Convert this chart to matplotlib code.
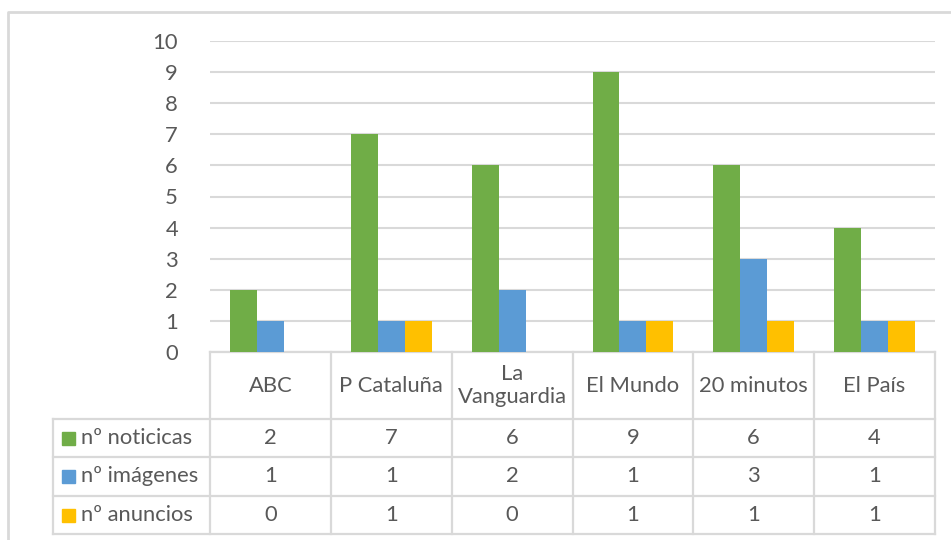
import matplotlib
matplotlib.use("Agg")
import matplotlib.pyplot as plt
import numpy as np

categories = ["ABC", "P Cataluña", "La\nVanguardia", "El Mundo", "20 minutos", "El País"]
series_names = ["nº noticicas", "nº imágenes", "nº anuncios"]
noticias = [2, 7, 6, 9, 6, 4]
imagenes = [1, 1, 2, 1, 3, 1]
anuncios = [0, 1, 0, 1, 1, 1]
series_values = [noticias, imagenes, anuncios]
colors = ["#70AD47", "#5B9BD5", "#FFC000"]
y_ticks = list(range(0, 11))

W, H = 951, 540
plt.rcParams['font.family'] = ['Lato', 'DejaVu Sans']
txt_color = "#595959"
grid_color = "#D9D9D9"
fs = 15.8

fig = plt.figure(figsize=(W / 100, H / 100), dpi=100)

# plot area (pixel layout)
px_left, px_right = 210, 935
px_top, px_zero = 41, 352
row_edges = [352, 419, 457, 496, 534]
label_left = 53

ax = fig.add_axes([px_left / W, 1 - px_zero / H, (px_right - px_left) / W, (px_zero - px_top) / H])
n = len(categories)
x = np.arange(n)
bw = 1 / 4.5
for k, (vals, c) in enumerate(zip(series_values, colors)):
    ax.bar(x + (k - 1) * bw, vals, width=bw, color=c, zorder=3)
ax.set_xlim(-0.5, n - 0.5)
ax.set_ylim(0, 10)
ax.set_yticks(y_ticks)
ax.set_yticklabels([str(t) for t in y_ticks])
ax.tick_params(axis='y', length=0, pad=23, labelsize=fs, labelcolor=txt_color)
ax.tick_params(axis='x', length=0, labelbottom=False)
ax.yaxis.grid(True, color=grid_color, linewidth=1.5, zorder=0)
for s in ax.spines.values():
    s.set_visible(False)
ax.patch.set_alpha(0)

# overlay for frame and data table
ov = fig.add_axes([0, 0, 1, 1], zorder=-1)
ov.set_xlim(0, W)
ov.set_ylim(H, 0)
ov.axis('off')
lw = 1.6
# chart frame
ov.plot([8, 8, W + 5], [H + 5, 12, 12], color=grid_color, lw=2)

col_w = (px_right - px_left) / n
col_edges = [px_left + i * col_w for i in range(n + 1)]
# horizontal lines
ov.plot([px_left, px_right], [row_edges[0], row_edges[0]], color=grid_color, lw=lw)
for y in row_edges[1:]:
    ov.plot([label_left, px_right], [y, y], color=grid_color, lw=lw)
# vertical lines
for xe in col_edges:
    ov.plot([xe, xe], [row_edges[0], row_edges[-1]], color=grid_color, lw=lw)
ov.plot([label_left, label_left], [row_edges[1], row_edges[-1]], color=grid_color, lw=lw)

# header text
for i, cat in enumerate(categories):
    cx = (col_edges[i] + col_edges[i + 1]) / 2
    cy = (row_edges[0] + row_edges[1]) / 2
    ov.text(cx, cy, cat, ha='center', va='center', fontsize=fs, color=txt_color, linespacing=1.2)

# rows
for r, (name, vals, c) in enumerate(zip(series_names, series_values, colors)):
    cy = (row_edges[r + 1] + row_edges[r + 2]) / 2
    ov.add_patch(plt.Rectangle((62, cy - 6.5), 13, 13, color=c))
    ov.text(81, cy, name, ha='left', va='center', fontsize=fs, color=txt_color)
    for i, v in enumerate(vals):
        cx = (col_edges[i] + col_edges[i + 1]) / 2
        ov.text(cx, cy, str(v), ha='center', va='center', fontsize=fs, color=txt_color)

fig.savefig("out.png", dpi=100)
